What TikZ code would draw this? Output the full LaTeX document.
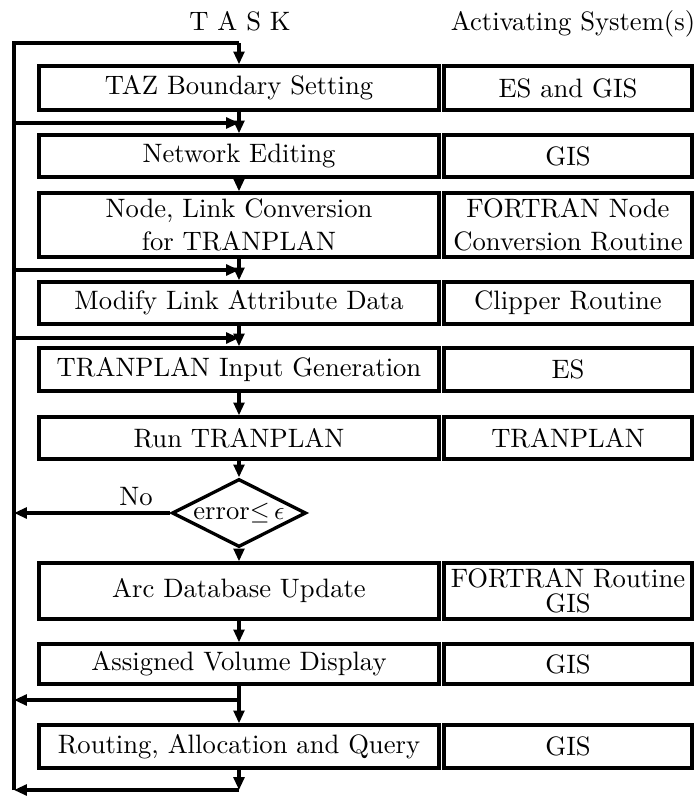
\documentclass[tikz,border=0pt]{standalone}
\usetikzlibrary{arrows.meta,shapes.geometric}
\newcommand\pxu{0.3906pt}
\begin{document}
\begin{tikzpicture}[x=0.3906pt,y=-0.3906pt,
  every node/.style={font=\fontsize{10.4}{12.8}\selectfont},
  lbox/.style={draw,line width=1.3pt,minimum width=400*\pxu,inner sep=0pt,align=center},
  rbox/.style={draw,line width=1.3pt,minimum width=248*\pxu,inner sep=0pt,align=center},
  dia/.style={draw,diamond,line width=1.3pt,minimum width=134*\pxu,minimum height=68*\pxu,inner sep=0pt},
  conn/.style={line width=1.2pt,line join=miter},
  arr/.style={conn,-{Triangle[length=5pt,width=4.2pt]}}]
\useasboundingbox (0,0) rectangle (697,796);
% headings
\node[anchor=base] (h1) at (240,31) {T A S K};
\node[anchor=base] (h2) at (573,31) {Activating System(s)};
% task boxes
\node[lbox,minimum height=44*\pxu] (t1) at (239,88) {TAZ Boundary Setting};
\node[lbox,minimum height=42*\pxu] (t2) at (239,156) {Network Editing};
\node[lbox,minimum height=64*\pxu] (t3) at (239,225) {Node, Link Conversion\\for TRANPLAN};
\node[lbox,minimum height=42*\pxu] (t4) at (239,303) {Modify Link Attribute Data};
\node[lbox,minimum height=43*\pxu] (t5) at (239,369.5) {TRANPLAN Input Generation};
\node[lbox,minimum height=42*\pxu] (t6) at (239,438) {Run TRANPLAN};
\node[dia] (d) at (239,513) {};
\node (dtext) at (d.center) {error$\leq$\,$\epsilon$};
\node[lbox,minimum height=56*\pxu] (t7) at (239,591) {Arc Database Update};
\node[lbox,minimum height=40*\pxu] (t8) at (239,664) {Assigned Volume Display};
\node[lbox,minimum height=43*\pxu] (t9) at (239,746.5) {Routing, Allocation and Query};
% system boxes
\node[rbox,minimum height=44*\pxu] (s1) at (568,88) {ES and GIS};
\node[rbox,minimum height=42*\pxu] (s2) at (568,156) {GIS};
\node[rbox,minimum height=64*\pxu] (s3) at (568,225) {FORTRAN Node\\Conversion Routine};
\node[rbox,minimum height=42*\pxu] (s4) at (568,303) {Clipper Routine};
\node[rbox,minimum height=43*\pxu] (s5) at (568,369.5) {ES};
\node[rbox,minimum height=42*\pxu] (s6) at (568,438) {TRANPLAN};
\node[rbox,minimum height=56*\pxu] (s7) at (568,591) {FORTRAN Routine\\[-3pt]GIS};
\node[rbox,minimum height=40*\pxu] (s8) at (568,664) {GIS};
\node[rbox,minimum height=43*\pxu] (s9) at (568,746.5) {GIS};
% coordinates
\coordinate (tl) at (14,43);
\coordinate (tc) at (239,43);
\coordinate (bl) at (14,790);
\coordinate (bc) at (239,790);
\coordinate (l1) at (14,123);  \coordinate (j1) at (239,123);
\coordinate (l3) at (14,270);  \coordinate (j3) at (239,270);
\coordinate (l4) at (14,338);  \coordinate (j4) at (239,338);
\coordinate (ld) at (14,513);
\coordinate (l8) at (14,700);  \coordinate (j8) at (239,700);
% loop
\draw[conn] (bl) -- (tl) -- (tc);
\draw[arr] (tc) -- (t1);
% vertical flow
\draw[arr] (t1) -- (t2);
\draw[arr] (t2) -- (t3);
\draw[arr] (t3) -- (t4);
\draw[arr] (t4) -- (t5);
\draw[arr] (t5) -- (t6);
\draw[arr] (t6) -- (d);
\draw[arr] (d) -- (t7);
\draw[arr] (t7) -- (t8);
\draw[arr] (t8) -- (t9);
\draw[arr] (t9) -- (bc);
\draw[arr] (bc) -- (bl);
% branches
\draw[arr] (l1) -- (j1);
\draw[arr] (l3) -- (j3);
\draw[arr] (l4) -- (j4);
\draw[arr] (d.west) -- (ld);
\draw[arr] (j8) -- (l8);
\node[anchor=base] (no) at (136,505) {No};
\end{tikzpicture}
\end{document}
